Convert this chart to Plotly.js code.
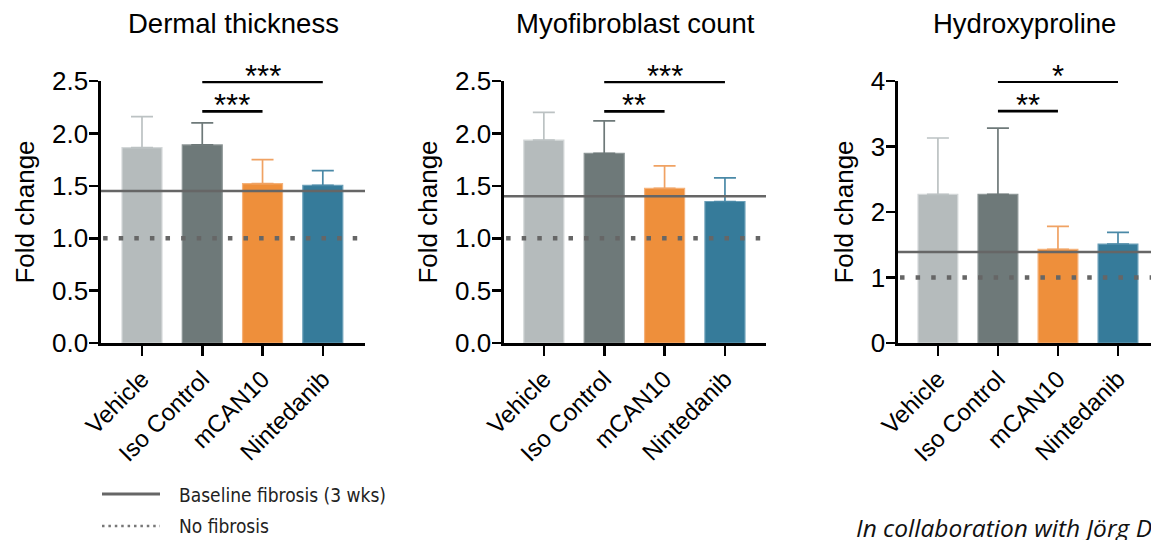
<!DOCTYPE html>
<html><head><meta charset="utf-8">
<script src="https://cdn.plot.ly/plotly-3.0.1.min.js"></script>
<style>html,body{margin:0;padding:0;overflow:hidden;background:#fff}#chart{width:1151px;height:540px}</style>
</head><body><div id="chart"></div>
<script>
// ---- data ----
const categories = ["Vehicle", "Iso Control", "mCAN10", "Nintedanib"];
const panelTitles = ["Dermal thickness", "Myofibroblast count", "Hydroxyproline"];
const dermalMean = [1.865, 1.89, 1.52, 1.505];
const dermalErr  = [0.295, 0.21, 0.23, 0.14];
const myoMean    = [1.935, 1.81, 1.475, 1.35];
const myoErr     = [0.265, 0.31, 0.215, 0.225];
const hydroMean  = [2.27, 2.27, 1.43, 1.51];
const hydroErr   = [0.86, 1.01, 0.35, 0.18];
const baselineFibrosis = [1.45, 1.40, 1.39];
const noFibrosis = [1, 1, 1];
const yMax = [2.5, 2.5, 4];
const yTickStep = [0.5, 0.5, 1];
// significance brackets per panel
const bracketFrom  = [[1, 1], [1, 1], [1, 1]];
const bracketTo    = [[2, 3], [2, 3], [2, 3]];
const bracketY     = [[2.21, 2.49], [2.21, 2.49], [3.54, 3.99]];
const bracketLabel = [["***", "***"], ["**", "***"], ["**", "*"]];
const legendNames = ["Baseline fibrosis (3 wks)", "No fibrosis"];
const creditText = "In collaboration with Jörg Distler";

// ---- styles ----
const W = 1151, H = 540;
const means = [dermalMean, myoMean, hydroMean];
const errs = [dermalErr, myoErr, hydroErr];
const barColors = ["#b5bbbc", "#6e7979", "#ee8f3b", "#367b9a"];
const barEdge = ["#d3d7d8", "#8d9696", "#f5b27a", "#6a9fb8"];
const errColors = ["#bcc2c3", "#6e7979", "#f0a263", "#4a89a7"];
const xDomPx = [[101, 365], [504, 766], [898, 1151]];
const yDom = [(H - 343) / H, (H - 81) / H];
const xRange = [[-0.68, 3.70], [-0.66, 3.68], [-0.665, 3.55]];
const FONT = "Liberation Sans, Arial, Helvetica, sans-serif";
const LEGFONT = "Liberation Sans Narrow, DejaVu Sans Condensed, sans-serif";

const data = [];
const shapes = [];
const annotations = [];
const layout = {
  width: W, height: H,
  margin: {l: 0, r: 0, t: 0, b: 0},
  paper_bgcolor: "#fff", plot_bgcolor: "#fff",
  barmode: "overlay", bargap: 0.337,
  showlegend: false,
  font: {family: FONT, color: "#000"},
  shapes: shapes, annotations: annotations
};

for (let p = 0; p < 3; p++) {
  const xa = p === 0 ? "x" : "x" + (p + 1);
  const ya = p === 0 ? "y" : "y" + (p + 1);
  for (let i = 0; i < categories.length; i++) {
    data.push({
      type: "bar", x: [categories[i]], y: [means[p][i]], xaxis: xa, yaxis: ya,
      marker: {color: barColors[i], line: {color: barEdge[i], width: 1.2}},
      error_y: {type: "data", symmetric: false, array: [errs[p][i]], arrayminus: [0],
                color: errColors[i], thickness: 1.7, width: 11},
      showlegend: false, hoverinfo: "skip"
    });
  }
  layout["xaxis" + (p === 0 ? "" : p + 1)] = {
    domain: [xDomPx[p][0] / W, xDomPx[p][1] / W], anchor: ya,
    type: "category", categoryorder: "array", categoryarray: categories,
    range: xRange[p], showline: true, linecolor: "#000", linewidth: 2.6,
    ticks: "outside", ticklen: 10, tickwidth: 2.6, tickcolor: "#000",
    tickangle: -45, tickfont: {family: FONT, size: 24, color: "#000"},
    showgrid: false, zeroline: false, fixedrange: true
  };
  layout["yaxis" + (p === 0 ? "" : p + 1)] = {
    domain: yDom, anchor: xa, range: [0, yMax[p]], dtick: yTickStep[p], tick0: 0,
    tickformat: yTickStep[p] < 1 ? ".1f" : "d",
    showline: true, linecolor: "#000", linewidth: 2.6,
    ticks: "outside", ticklen: 9, tickwidth: 2.6, tickcolor: "#000",
    ticklabelstandoff: -4,
    tickfont: {family: FONT, size: 26, color: "#000"},
    title: {text: "Fold change", font: {family: FONT, size: 26, color: "#000"}, standoff: 10},
    showgrid: false, zeroline: false, fixedrange: true
  };
  // reference lines
  shapes.push({type: "line", xref: xa + " domain", yref: ya, x0: 0, x1: 1,
               y0: baselineFibrosis[p], y1: baselineFibrosis[p], line: {color: "#666", width: 2.6}});
  shapes.push({type: "line", xref: xa + " domain", yref: ya, x0: 0.008, x1: 1,
               y0: noFibrosis[p], y1: noFibrosis[p], line: {color: "#666", width: 4.5, dash: "4.5px,11.1px"}});
  // brackets
  for (let b = 0; b < bracketY[p].length; b++) {
    shapes.push({type: "line", xref: xa, yref: ya, x0: bracketFrom[p][b], x1: bracketTo[p][b],
                 y0: bracketY[p][b], y1: bracketY[p][b], line: {color: "#000", width: 2.6}});
    annotations.push({xref: xa, yref: ya, x: (bracketFrom[p][b] + bracketTo[p][b]) / 2, y: bracketY[p][b],
                      text: bracketLabel[p][b], showarrow: false, yanchor: "bottom", yshift: -14,
                      font: {family: FONT, size: 31, color: "#000"}});
  }
  // panel title
  annotations.push({xref: xa + " domain", yref: "paper", x: 0.5, y: (H - 23) / H, yanchor: "middle",
                    text: panelTitles[p], showarrow: false,
                    font: {family: FONT, size: 27.5, color: "#000"}});
}

// legend (drawn as key lines + labels)
shapes.push({type: "line", xref: "paper", yref: "paper", x0: 102 / W, x1: 160 / W,
             y0: (H - 494) / H, y1: (H - 494) / H, line: {color: "#666", width: 3}});
shapes.push({type: "line", xref: "paper", yref: "paper", x0: 102 / W, x1: 160 / W,
             y0: (H - 526) / H, y1: (H - 526) / H, line: {color: "#777", width: 2.5, dash: "2.5px,3.9px"}});
annotations.push({xref: "paper", yref: "paper", x: 177 / W, y: (H - 495) / H, xanchor: "left", yanchor: "middle",
                  text: legendNames[0], showarrow: false, font: {family: LEGFONT, size: 19, color: "#222"}});
annotations.push({xref: "paper", yref: "paper", x: 177 / W, y: (H - 526) / H, xanchor: "left", yanchor: "middle",
                  text: legendNames[1], showarrow: false, font: {family: LEGFONT, size: 19, color: "#222"}});

annotations.push({xref: "paper", yref: "paper", x: 854 / W, y: (H - 527) / H, xanchor: "left", yanchor: "middle",
                  text: creditText, showarrow: false,
                  font: {family: "Open Sans, Noto Sans, sans-serif", size: 24.5, style: "italic", color: "#111"}});

Plotly.newPlot("chart", data, layout, {displayModeBar: false, staticPlot: true});
</script>
</body></html>
